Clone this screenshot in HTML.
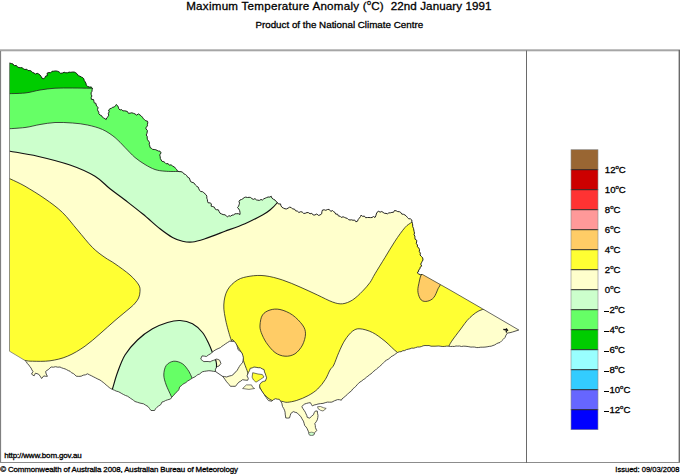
<!DOCTYPE html>
<html><head><meta charset="utf-8"><title>Maximum Temperature Anomaly</title>
<style>
html,body{margin:0;padding:0;background:#fff;}
body{width:680px;height:474px;overflow:hidden;position:relative;font-family:"Liberation Sans",sans-serif;color:#000;}
svg{position:absolute;left:0;top:0;}
.t{position:absolute;white-space:nowrap;line-height:1;-webkit-text-stroke:0.3px #000;}
#title{left:186.2px;top:-0.1px;font-size:11.6px;letter-spacing:0.2px;}
#sub{left:255.4px;top:19.7px;font-size:9.8px;}
#url{left:4.2px;top:452.1px;font-size:8px;letter-spacing:-0.14px;}
#copy{left:0.2px;top:465.5px;font-size:7.9px;letter-spacing:-0.11px;}
#iss{right:0.5px;top:466px;font-size:7.55px;}
sup{font-size:63%;vertical-align:baseline;position:relative;top:-0.74em;line-height:0;}
.mn{display:inline-block;width:4.5px;height:1.2px;background:#000;vertical-align:1.5px;margin-left:-0.8px;margin-right:0.9px;}
</style></head><body>
<svg width="680" height="474" viewBox="0 0 680 474">
<defs><clipPath id="vic"><path d="M9.5,63.0 L11.3,63.5 L13.0,64.0 L14.2,65.7 L16.3,65.4 L17.5,67.0 L19.0,67.6 L20.6,67.7 L22.3,67.7 L23.5,69.0 L25.0,69.5 L26.8,69.2 L28.0,70.6 L29.8,70.5 L31.3,71.1 L32.5,72.5 L34.0,72.9 L35.3,74.1 L37.2,73.3 L38.7,74.0 L40.0,75.0 L41.1,76.4 L41.9,78.1 L43.8,78.8 L44.9,77.6 L45.6,76.1 L47.5,75.6 L47.0,73.2 L48.8,72.5 L50.6,72.8 L52.0,71.3 L53.8,71.2 L55.6,70.9 L57.4,71.2 L59.1,71.9 L60.6,73.3 L62.5,73.0 L64.1,72.2 L65.8,72.8 L67.5,72.8 L69.1,72.1 L70.8,72.3 L72.5,72.0 L74.4,72.1 L75.9,72.9 L77.3,74.0 L78.3,75.7 L80.0,76.2 L81.3,77.0 L82.7,77.6 L83.8,78.8 L84.2,80.4 L85.1,81.8 L86.0,83.3 L86.2,85.0 L87.5,86.3 L89.2,87.0 L91.2,87.0 L92.5,88.2 L92.1,89.8 L92.0,91.3 L91.1,92.8 L91.2,94.4 L91.9,96.0 L91.2,97.5 L91.3,99.3 L93.6,99.6 L93.9,101.2 L94.2,102.8 L96.0,103.4 L96.2,105.0 L96.8,106.4 L98.2,107.5 L97.5,109.4 L97.9,110.9 L98.8,112.2 L98.8,113.8 L100.0,115.0 L101.5,115.6 L102.3,117.1 L103.6,117.9 L104.9,118.7 L106.2,119.5 L106.7,117.9 L108.0,116.7 L108.7,115.2 L108.3,113.3 L109.2,111.9 L108.6,110.0 L110.0,108.8 L111.5,108.2 L112.7,107.3 L114.3,107.0 L115.4,105.9 L116.2,104.5 L117.5,105.6 L118.3,107.1 L118.8,108.8 L120.0,110.0 L121.7,109.6 L122.9,110.9 L124.5,110.8 L126.0,111.1 L127.4,111.5 L128.4,113.3 L130.0,113.2 L131.8,112.8 L133.4,113.3 L135.0,113.9 L136.5,115.1 L138.5,113.9 L140.0,115.0 L141.3,116.0 L142.4,117.2 L143.3,118.7 L144.6,119.7 L145.8,120.8 L147.5,121.2 L147.8,122.8 L147.4,124.3 L147.4,125.9 L146.2,127.3 L145.9,128.8 L147.4,130.5 L147.2,132.0 L146.9,133.5 L146.2,135.0 L147.2,136.4 L147.2,138.1 L147.5,139.7 L148.6,141.1 L149.5,142.5 L149.2,144.3 L149.8,145.9 L150.0,147.5 L151.4,148.2 L152.5,149.4 L154.2,149.5 L155.7,149.7 L157.1,150.4 L158.4,151.0 L160.0,151.2 L161.1,152.9 L159.7,154.9 L160.2,156.6 L160.3,158.4 L161.2,160.0 L162.1,161.4 L163.9,161.7 L165.1,162.7 L166.2,163.8 L168.1,163.6 L169.3,165.2 L171.3,164.8 L172.5,166.2 L174.4,166.9 L175.4,168.3 L176.7,169.5 L177.5,171.2 L179.2,171.6 L181.0,171.7 L182.6,172.2 L183.8,173.8 L185.5,174.5 L186.8,175.7 L187.7,177.3 L189.4,178.1 L190.0,180.0 L190.6,181.6 L192.0,182.3 L193.8,182.8 L194.7,184.0 L195.7,185.3 L196.8,186.4 L198.2,187.1 L198.8,188.8 L199.6,190.3 L200.6,191.5 L202.5,191.7 L203.8,192.7 L205.0,193.8 L206.3,195.0 L206.8,196.5 L206.8,198.2 L207.4,199.6 L207.5,201.2 L208.1,202.8 L210.1,202.9 L211.4,203.8 L211.1,206.2 L212.8,206.6 L214.4,207.2 L215.0,208.8 L216.3,209.7 L218.3,209.8 L219.1,211.5 L220.0,213.2 L221.5,213.9 L223.1,214.6 L225.0,214.8 L226.3,215.9 L227.5,217.0 L228.7,215.7 L230.7,216.2 L232.0,215.1 L233.7,214.9 L235.0,213.8 L236.7,213.7 L238.4,213.7 L240.0,214.5 L240.0,212.5 L239.7,210.7 L238.8,209.0 L237.5,207.5 L238.6,206.2 L239.1,204.7 L239.5,203.2 L239.0,201.3 L240.0,200.0 L241.5,199.5 L242.9,198.7 L244.2,197.6 L245.7,197.1 L247.5,197.5 L249.1,197.3 L250.6,197.5 L251.9,198.6 L253.3,199.4 L255.0,198.6 L256.4,199.9 L257.8,200.2 L259.4,200.4 L261.0,199.5 L262.5,200.0 L263.7,198.9 L265.2,198.2 L266.6,197.6 L268.1,197.0 L269.9,197.1 L271.2,196.2 L271.9,198.1 L273.3,199.2 L275.0,200.0 L276.0,201.5 L277.5,202.5 L278.4,204.0 L280.5,203.9 L281.0,205.9 L282.0,207.3 L283.4,208.1 L285.0,208.8 L286.7,208.9 L288.1,208.1 L289.6,207.2 L291.2,207.5 L292.5,208.9 L294.5,209.1 L295.6,210.8 L297.5,211.2 L298.9,212.5 L300.7,211.7 L302.2,212.0 L303.6,213.4 L305.2,213.3 L307.0,212.5 L308.6,212.7 L310.0,213.8 L311.8,213.3 L313.2,215.0 L314.9,215.0 L316.8,213.9 L318.3,215.4 L320.0,215.0 L321.7,213.8 L321.9,211.8 L322.5,210.0 L324.2,209.8 L325.8,210.3 L327.5,209.5 L329.2,209.4 L330.8,211.4 L332.5,210.5 L333.6,211.7 L335.0,212.5 L335.7,214.1 L337.6,214.2 L338.3,215.9 L340.0,216.2 L341.2,217.4 L343.1,216.8 L344.5,217.4 L345.9,218.0 L347.3,218.4 L348.5,219.6 L350.0,220.0 L351.6,219.8 L353.0,220.3 L354.6,220.0 L355.9,221.8 L357.5,221.2 L358.2,219.5 L359.3,218.1 L360.5,216.6 L361.2,215.0 L362.5,216.4 L364.4,216.1 L365.6,217.7 L367.5,217.5 L369.0,217.5 L370.5,217.6 L372.0,217.5 L373.5,216.5 L375.0,217.5 L375.8,215.9 L376.3,214.0 L377.0,212.3 L378.8,211.2 L380.0,212.2 L381.8,211.5 L383.1,212.4 L384.5,213.3 L386.0,213.4 L387.5,213.8 L388.8,212.9 L390.4,212.8 L391.9,212.4 L393.5,212.3 L394.5,210.5 L396.2,210.8 L397.7,211.6 L399.4,211.7 L400.8,212.5 L401.8,214.1 L403.5,214.3 L405.0,215.0 L406.3,216.1 L407.4,217.4 L408.6,218.7 L410.5,218.9 L411.8,220.0 L411.9,221.7 L412.4,223.3 L412.7,225.0 L412.7,226.7 L413.5,228.3 L413.8,230.0 L414.1,231.5 L414.5,233.0 L414.0,234.7 L414.9,236.1 L414.9,237.7 L415.1,239.2 L416.8,240.4 L416.6,242.0 L416.3,243.7 L417.5,245.0 L417.3,246.8 L419.0,248.2 L419.5,249.8 L419.3,251.6 L420.4,253.1 L420.0,255.0 L421.4,256.4 L422.7,257.9 L423.0,260.0 L422.2,261.3 L421.5,262.7 L420.7,264.1 L421.7,266.1 L420.1,267.2 L420.0,268.8 L418.7,269.8 L418.6,271.7 L417.0,272.5 L418.6,273.9 L420.3,274.7 L422.5,274.5 L450.0,290.0 L482.5,308.8 L518.8,330.0 L512.5,332.0 L510.0,332.7 L507.5,333.0 L506.0,335.1 L505.0,337.5 L503.4,339.2 L501.7,340.8 L500.0,342.5 L498.1,343.0 L496.4,343.8 L494.8,344.9 L493.0,345.5 L491.2,346.2 L489.2,346.4 L487.1,346.8 L485.0,347.1 L482.9,347.2 L480.8,347.2 L478.8,347.5 L476.8,347.6 L474.8,347.1 L472.9,347.0 L470.9,347.1 L468.9,346.7 L467.0,346.4 L465.0,346.2 L463.2,346.2 L461.4,346.5 L459.6,346.0 L457.8,346.1 L456.0,346.0 L454.2,346.5 L452.4,346.4 L450.6,346.5 L448.8,346.2 L446.8,346.1 L444.8,346.4 L442.9,346.5 L440.9,346.3 L438.9,346.0 L437.0,346.1 L435.0,346.2 L433.0,346.2 L431.0,346.2 L429.0,345.5 L427.0,345.6 L425.0,345.5 L423.1,345.8 L421.3,346.6 L419.4,347.0 L417.5,347.0 L415.6,347.6 L413.8,348.2 L411.8,348.1 L410.0,348.8 L408.2,349.2 L406.4,349.6 L404.7,350.6 L402.8,350.7 L401.1,351.7 L399.2,351.8 L397.5,352.5 L396.0,353.6 L394.4,354.8 L392.8,355.8 L391.1,356.7 L389.8,358.1 L388.3,359.2 L386.6,360.1 L385.0,361.2 L383.7,362.6 L382.4,363.9 L381.0,365.2 L379.6,366.5 L378.2,367.6 L376.7,368.8 L375.4,370.1 L373.8,371.1 L372.5,372.5 L371.0,373.8 L369.4,374.9 L367.9,376.2 L366.3,377.3 L364.9,378.7 L363.2,379.7 L361.7,381.0 L360.0,382.0 L358.5,383.3 L357.1,384.8 L355.8,386.4 L354.3,387.7 L352.7,389.0 L351.6,390.7 L350.0,392.0 L348.5,393.1 L347.2,394.6 L345.8,395.8 L343.9,397.4 L342.0,398.9 L341.4,400.2 L339.5,399.7 L337.6,399.6 L334.4,400.8 L331.9,402.1 L329.7,402.2 L327.5,402.1 L325.2,402.7 L323.0,403.4 L320.5,403.6 L318.0,404.0 L316.1,404.6 L314.1,405.0 L312.3,405.9 L311.3,404.3 L310.4,402.7 L308.5,402.9 L306.6,403.4 L304.7,404.0 L303.2,405.2 L301.8,406.5 L302.8,408.4 L304.1,410.3 L305.3,412.2 L306.0,413.9 L306.8,415.5 L307.2,417.3 L309.7,418.2 L311.4,416.3 L313.5,414.7 L314.2,412.7 L315.4,411.0 L317.3,411.0 L317.5,413.2 L318.0,415.4 L317.8,417.6 L317.3,419.8 L316.2,421.8 L314.8,423.6 L315.3,425.5 L315.4,427.4 L316.7,430.6 L314.8,432.5 L313.5,435.0 L311.6,434.8 L309.7,435.0 L308.5,431.8 L307.2,428.7 L306.1,427.0 L304.7,425.5 L304.1,423.3 L303.4,421.1 L302.0,418.9 L300.9,416.6 L298.9,414.8 L297.1,412.8 L295.2,412.3 L293.3,411.6 L290.8,413.5 L290.2,415.7 L289.5,417.9 L287.6,418.1 L285.7,417.9 L285.5,416.0 L285.2,414.1 L285.1,412.2 L284.5,410.2 L283.6,408.3 L282.5,406.5 L281.8,403.1 L280.6,401.2 L279.3,399.3 L277.4,399.2 L275.5,398.7 L273.4,399.7 L271.7,401.2 L268.5,400.6 L267.3,399.1 L266.2,397.4 L265.0,396.0 L264.1,394.2 L262.9,392.7 L261.9,391.1 L260.8,389.5 L259.7,387.9 L259.7,384.7 L261.6,382.2 L263.4,381.4 L265.4,381.0 L266.6,377.8 L266.0,375.9 L265.4,374.0 L264.5,371.9 L264.1,369.6 L262.1,368.8 L260.3,367.7 L258.2,367.7 L256.1,367.3 L254.0,367.0 L252.2,367.9 L250.2,368.3 L249.5,370.6 L248.3,372.7 L247.0,375.9 L248.3,378.4 L247.7,380.3 L245.1,380.1 L242.6,379.7 L240.8,381.1 L238.8,382.2 L237.1,384.2 L235.5,386.3 L232.9,386.3 L230.4,386.3 L229.2,384.7 L227.9,383.2 L226.6,381.8 L225.3,379.9 L224.0,378.0 L222.5,376.3 L224.6,376.6 L226.6,377.0 L229.1,376.1 L231.7,375.5 L233.4,374.5 L234.5,372.8 L236.1,371.7 L237.3,370.1 L238.3,368.3 L239.3,366.6 L240.7,364.5 L242.5,362.8 L243.1,360.3 L243.4,357.8 L242.8,355.2 L241.8,352.7 L239.9,351.1 L238.0,349.6 L237.5,347.3 L236.8,345.1 L235.7,343.1 L234.2,341.3 L232.0,341.4 L229.8,341.1 L227.6,342.5 L225.4,343.9 L223.7,345.2 L221.9,346.3 L220.3,347.7 L218.1,348.6 L216.0,349.6 L214.0,350.8 L212.1,352.4 L210.2,354.0 L208.2,355.1 L206.4,356.5 L204.2,356.1 L202.0,355.9 L200.7,359.1 L202.2,360.4 L203.9,361.6 L206.0,361.5 L208.1,361.5 L210.2,361.8 L211.8,360.9 L213.6,360.3 L215.3,359.7 L215.9,359.0 L217.9,359.4 L219.7,360.3 L220.9,363.5 L219.0,366.0 L217.2,366.6 L216.1,368.1 L215.3,369.8 L215.6,371.6 L213.4,371.3 L211.1,370.9 L208.9,370.7 L206.8,371.0 L204.7,371.3 L202.6,371.7 L201.1,372.7 L199.7,374.0 L197.9,374.6 L196.4,375.7 L195.0,376.8 L192.5,378.0 L190.8,379.1 L189.1,380.2 L187.4,381.2 L185.9,382.6 L184.1,383.5 L182.5,384.5 L181.3,385.8 L179.7,386.8 L178.8,389.7 L177.2,391.6 L175.3,393.2 L173.7,395.3 L171.8,397.2 L170.5,399.0 L167.4,399.9 L165.6,400.5 L163.9,401.5 L162.0,402.0 L160.7,404.7 L158.7,405.9 L156.8,407.4 L155.5,408.8 L154.6,410.5 L151.0,410.5 L149.5,408.5 L148.0,406.5 L145.7,405.2 L143.5,403.8 L140.0,403.1 L137.5,402.3 L135.0,401.5 L133.6,400.4 L132.1,399.3 L130.5,398.3 L129.0,397.2 L127.5,396.2 L125.5,395.5 L123.7,394.6 L121.8,393.6 L120.0,392.5 L118.2,391.6 L116.2,391.1 L114.4,390.2 L112.5,389.5 L110.8,388.6 L109.2,387.5 L107.7,386.2 L106.2,385.0 L104.8,383.7 L103.2,382.4 L101.6,381.2 L100.0,380.0 L97.9,379.1 L95.8,378.0 L93.8,377.0 L91.7,375.9 L89.6,374.9 L87.5,373.8 L85.5,374.8 L83.2,375.2 L81.2,376.2 L78.8,376.4 L76.2,376.2 L74.9,374.8 L73.3,373.5 L71.4,372.7 L70.0,371.2 L68.3,370.6 L66.7,369.7 L65.1,368.9 L63.3,368.4 L61.6,367.8 L60.0,367.0 L57.8,367.2 L55.6,366.7 L53.4,367.2 L51.2,367.0 L49.8,368.1 L48.6,369.4 L47.0,370.4 L45.6,371.5 L46.2,374.0 L47.4,376.3 L45.6,376.3 L43.8,375.9 L41.6,378.5 L40.2,376.2 L38.5,374.1 L35.4,373.2 L34.1,375.9 L31.5,374.1 L33.0,371.5 L31.9,369.9 L31.1,368.1 L29.9,366.6 L28.8,365.0 L27.4,363.6 L26.4,361.8 L25.0,360.5 L9.5,351.2Z"/></clipPath></defs>
<rect x="0" y="49.3" width="680" height="2" fill="#a6a6a6"/>
<rect x="0" y="51" width="1.1" height="412" fill="#808080"/>
<rect x="678.6" y="50" width="1.4" height="413" fill="#6a6a6a"/>
<rect x="0" y="462" width="680" height="1" fill="#8c8c8c"/>
<line x1="526.5" y1="50.5" x2="526.5" y2="463" stroke="#6a6a6a" stroke-width="1"/>
<g clip-path="url(#vic)" stroke="#222" stroke-width="0.8">
<rect x="0" y="50" width="530" height="400" fill="#ffffcc" stroke="none"/>
<path d="M5.0,150.5 C5.8,150.6 4.6,150.3 10.0,151.2 C15.4,152.2 27.5,154.0 37.5,156.2 C47.5,158.5 60.4,161.7 70.0,165.0 C79.6,168.3 88.3,172.3 95.0,176.2 C101.7,180.2 105.0,184.8 110.0,188.8 C115.0,192.7 119.6,195.8 125.0,200.0 C130.4,204.2 136.7,209.0 142.5,213.8 C148.3,218.5 155.0,224.8 160.0,228.8 C165.0,232.7 168.8,235.4 172.5,237.5 C176.2,239.6 179.2,240.5 182.5,241.2 C185.8,242.0 188.8,242.4 192.5,242.0 C196.2,241.6 199.6,240.5 205.0,238.8 C210.4,237.0 218.3,233.8 225.0,231.2 C231.7,228.8 238.8,226.5 245.0,223.8 C251.2,221.0 258.3,217.3 262.5,215.0 C266.7,212.7 267.5,212.1 270.0,210.0 C272.5,207.9 275.7,204.7 277.5,202.5 C279.3,200.3 280.4,197.9 281.0,197.0 L300,190 L300,40 L0,40 Z" fill="#ccffcc" stroke="#111" stroke-width="1.15"/>
<path d="M5.0,129.0 C8.3,128.8 19.2,128.2 25.0,127.5 C30.8,126.8 35.0,125.3 40.0,124.5 C45.0,123.7 49.6,122.8 55.0,122.5 C60.4,122.2 67.1,122.6 72.5,123.0 C77.9,123.4 82.5,123.9 87.5,125.0 C92.5,126.1 97.9,127.4 102.5,129.5 C107.1,131.6 111.2,134.5 115.0,137.5 C118.8,140.5 121.7,144.2 125.0,147.5 C128.3,150.8 131.7,154.7 135.0,157.5 C138.3,160.3 141.7,162.5 145.0,164.5 C148.3,166.5 151.7,168.4 155.0,169.5 C158.3,170.6 160.8,170.9 165.0,171.2 C169.2,171.6 177.5,171.5 180.0,171.5 L200,170 L200,40 L0,40 Z" fill="#66ff66"/>
<path d="M5.0,93.8 C8.3,93.6 19.2,93.6 25.0,93.0 C30.8,92.4 35.0,90.8 40.0,90.0 C45.0,89.2 49.6,88.6 55.0,88.2 C60.4,87.9 66.7,88.0 72.5,88.0 C78.3,88.0 86.1,88.2 90.0,88.2 C93.9,88.3 95.0,88.5 96.0,88.5 L110,88 L110,40 L0,40 Z" fill="#00cc00"/>
<path d="M110.0,397.0 C110.4,395.6 111.2,392.8 112.5,388.8 C113.8,384.7 115.4,378.1 117.5,372.5 C119.6,366.9 121.7,360.4 125.0,355.0 C128.3,349.6 132.9,344.4 137.5,340.0 C142.1,335.6 147.5,331.7 152.5,328.8 C157.5,325.8 162.9,323.9 167.5,322.5 C172.1,321.1 175.8,320.3 180.0,320.5 C184.2,320.7 188.8,321.8 192.5,323.8 C196.2,325.8 199.8,329.2 202.5,332.5 C205.2,335.8 207.1,340.4 208.8,343.8 C210.4,347.1 211.5,350.1 212.5,352.5 C213.5,354.9 214.3,356.1 215.0,358.0 C215.7,359.9 216.3,361.3 216.5,364.0 C216.7,366.7 216.1,372.3 216.0,374.0 L216,420 L100,420 Z" fill="#ccffcc" stroke="#111" stroke-width="1.15"/>
<path d="M174.0,402.0 C173.5,401.0 172.5,399.1 171.2,396.2 C170.0,393.4 167.5,388.5 166.2,385.0 C165.0,381.5 163.8,378.2 163.8,375.0 C163.8,371.8 164.6,367.8 166.2,365.5 C167.9,363.2 171.0,361.5 173.8,361.2 C176.5,361.0 180.0,362.1 182.5,363.8 C185.0,365.4 187.2,368.9 188.8,371.2 C190.3,373.6 191.1,375.9 192.0,378.0 C192.9,380.1 193.7,383.0 194.0,384.0 L194,420 L174,420 Z" fill="#66ff66"/>
<path d="M0.0,174.0 C1.7,174.8 5.8,176.7 10.0,178.8 C14.2,180.8 19.2,182.9 25.0,186.2 C30.8,189.6 38.8,194.4 45.0,198.8 C51.2,203.1 57.1,207.3 62.5,212.5 C67.9,217.7 72.5,224.2 77.5,230.0 C82.5,235.8 87.9,242.9 92.5,247.5 C97.1,252.1 101.2,254.8 105.0,257.5 C108.8,260.2 110.8,260.8 115.0,263.8 C119.2,266.7 126.0,271.5 130.0,275.0 C134.0,278.5 137.1,282.2 138.8,285.0 C140.4,287.8 140.0,289.3 140.0,291.5 C140.0,293.7 139.4,296.1 138.6,298.0 C137.8,299.9 136.6,301.3 135.2,303.0 C133.8,304.7 133.4,305.1 130.0,308.0 C126.6,310.9 120.0,316.2 115.0,320.5 C110.0,324.8 105.0,329.5 100.0,333.8 C95.0,338.0 90.4,342.5 85.0,346.2 C79.6,350.0 73.3,353.8 67.5,356.2 C61.7,358.7 55.8,359.9 50.0,360.8 C44.2,361.6 36.7,361.3 32.5,361.2 C28.3,361.2 28.8,361.0 25.0,360.5 C21.2,360.0 14.2,358.8 10.0,358.0 C5.8,357.2 1.7,356.3 0.0,356.0Z" fill="#ffff33"/>
<path d="M241.5,352.8 C239.8,349.4 234.7,342.1 233.0,340.0 C231.3,337.9 232.4,342.9 231.2,340.0 C230.1,337.1 227.5,328.3 226.2,322.5 C225.0,316.7 223.5,310.4 223.8,305.0 C224.0,299.6 225.2,294.2 227.5,290.0 C229.8,285.8 233.8,282.3 237.5,280.0 C241.2,277.7 245.4,277.0 250.0,276.2 C254.6,275.5 259.6,275.1 265.0,275.8 C270.4,276.4 276.7,278.1 282.5,280.0 C288.3,281.9 294.2,284.5 300.0,287.0 C305.8,289.5 312.1,292.5 317.5,295.0 C322.9,297.5 328.3,300.5 332.5,302.0 C336.7,303.5 339.2,304.1 342.5,303.8 C345.8,303.4 349.2,302.1 352.5,300.0 C355.8,297.9 359.6,294.2 362.5,291.2 C365.4,288.3 367.9,285.4 370.0,282.5 C372.1,279.6 372.5,277.9 375.0,273.8 C377.5,269.6 381.7,262.9 385.0,257.5 C388.3,252.1 391.7,246.2 395.0,241.2 C398.3,236.2 402.2,230.7 405.0,227.5 C407.8,224.3 409.8,223.9 412.0,222.0 C414.2,220.1 413.3,211.3 418.0,216.0 C422.7,220.7 426.3,234.3 440.0,250.0 C453.7,265.7 492.9,300.1 500.0,310.0 C507.1,319.9 487.5,308.2 482.5,309.5 C477.5,310.8 473.8,314.1 470.0,317.5 C466.2,320.9 462.9,326.2 460.0,330.0 C457.1,333.8 454.4,337.3 452.5,340.0 C450.6,342.7 449.8,344.2 448.8,346.2 C447.7,348.2 452.5,349.7 446.0,352.0 C439.5,354.3 418.1,359.9 410.0,360.0 C401.9,360.1 401.7,355.6 397.5,352.5 C393.3,349.4 389.2,344.6 385.0,341.2 C380.8,337.9 376.7,334.6 372.5,332.5 C368.3,330.4 363.3,329.0 360.0,328.8 C356.7,328.5 355.0,329.4 352.5,331.2 C350.0,333.1 347.3,336.5 345.0,340.0 C342.7,343.5 340.6,348.3 338.8,352.5 C336.9,356.7 335.2,362.1 333.8,365.0 C332.3,367.9 331.4,367.6 330.0,370.0 C328.6,372.4 327.4,376.3 325.3,379.5 C323.2,382.7 320.6,386.3 317.7,389.0 C314.8,391.7 311.7,393.7 308.2,395.6 C304.7,397.5 300.3,399.3 296.8,400.4 C293.3,401.5 289.8,402.1 287.3,402.3 C284.8,402.5 284.2,401.6 281.6,401.3 C279.1,401.0 274.9,401.5 272.0,400.4 C269.1,399.3 266.6,396.9 264.5,394.7 C262.4,392.5 260.8,389.6 259.7,387.1 C258.6,384.7 259.8,381.9 258.0,380.0 C256.2,378.1 250.9,377.1 249.1,375.6 C247.3,374.1 248.1,373.3 247.2,370.8 C246.2,368.3 244.3,363.4 243.4,360.4 C242.5,357.4 243.2,356.2 241.5,352.8Z" fill="#ffff33"/>
<path d="M260.0,325.0 C260.2,322.1 260.8,317.5 262.5,315.0 C264.2,312.5 267.1,310.9 270.0,310.0 C272.9,309.1 276.2,308.7 280.0,309.5 C283.8,310.3 288.8,312.4 292.5,315.0 C296.2,317.6 300.3,321.9 302.5,325.0 C304.7,328.1 305.5,330.4 305.5,333.8 C305.5,337.1 304.2,341.7 302.5,345.0 C300.8,348.3 297.9,351.9 295.0,353.8 C292.1,355.6 288.3,356.5 285.0,356.2 C281.7,356.0 278.1,354.8 275.0,352.5 C271.9,350.2 268.5,345.8 266.2,342.5 C264.0,339.2 262.3,335.4 261.2,332.5 C260.2,329.6 259.8,327.9 260.0,325.0Z" fill="#ffcc66"/>
<path d="M422.5,273.0 C420.3,275.0 419.5,280.5 418.8,283.8 C418.0,287.0 417.6,289.8 418.0,292.5 C418.4,295.2 419.7,298.5 421.2,300.0 C422.8,301.5 425.4,301.7 427.5,301.2 C429.6,300.8 432.0,299.6 433.8,297.5 C435.5,295.4 437.0,291.2 438.0,288.8 C439.0,286.3 441.0,285.8 440.0,283.0 C439.0,280.2 434.9,273.7 432.0,272.0 C429.1,270.3 424.7,271.0 422.5,273.0Z" fill="#ffcc66"/>
</g>
<path d="M9.5,63.0 L11.3,63.5 L13.0,64.0 L14.2,65.7 L16.3,65.4 L17.5,67.0 L19.0,67.6 L20.6,67.7 L22.3,67.7 L23.5,69.0 L25.0,69.5 L26.8,69.2 L28.0,70.6 L29.8,70.5 L31.3,71.1 L32.5,72.5 L34.0,72.9 L35.3,74.1 L37.2,73.3 L38.7,74.0 L40.0,75.0 L41.1,76.4 L41.9,78.1 L43.8,78.8 L44.9,77.6 L45.6,76.1 L47.5,75.6 L47.0,73.2 L48.8,72.5 L50.6,72.8 L52.0,71.3 L53.8,71.2 L55.6,70.9 L57.4,71.2 L59.1,71.9 L60.6,73.3 L62.5,73.0 L64.1,72.2 L65.8,72.8 L67.5,72.8 L69.1,72.1 L70.8,72.3 L72.5,72.0 L74.4,72.1 L75.9,72.9 L77.3,74.0 L78.3,75.7 L80.0,76.2 L81.3,77.0 L82.7,77.6 L83.8,78.8 L84.2,80.4 L85.1,81.8 L86.0,83.3 L86.2,85.0 L87.5,86.3 L89.2,87.0 L91.2,87.0 L92.5,88.2 L92.1,89.8 L92.0,91.3 L91.1,92.8 L91.2,94.4 L91.9,96.0 L91.2,97.5 L91.3,99.3 L93.6,99.6 L93.9,101.2 L94.2,102.8 L96.0,103.4 L96.2,105.0 L96.8,106.4 L98.2,107.5 L97.5,109.4 L97.9,110.9 L98.8,112.2 L98.8,113.8 L100.0,115.0 L101.5,115.6 L102.3,117.1 L103.6,117.9 L104.9,118.7 L106.2,119.5 L106.7,117.9 L108.0,116.7 L108.7,115.2 L108.3,113.3 L109.2,111.9 L108.6,110.0 L110.0,108.8 L111.5,108.2 L112.7,107.3 L114.3,107.0 L115.4,105.9 L116.2,104.5 L117.5,105.6 L118.3,107.1 L118.8,108.8 L120.0,110.0 L121.7,109.6 L122.9,110.9 L124.5,110.8 L126.0,111.1 L127.4,111.5 L128.4,113.3 L130.0,113.2 L131.8,112.8 L133.4,113.3 L135.0,113.9 L136.5,115.1 L138.5,113.9 L140.0,115.0 L141.3,116.0 L142.4,117.2 L143.3,118.7 L144.6,119.7 L145.8,120.8 L147.5,121.2 L147.8,122.8 L147.4,124.3 L147.4,125.9 L146.2,127.3 L145.9,128.8 L147.4,130.5 L147.2,132.0 L146.9,133.5 L146.2,135.0 L147.2,136.4 L147.2,138.1 L147.5,139.7 L148.6,141.1 L149.5,142.5 L149.2,144.3 L149.8,145.9 L150.0,147.5 L151.4,148.2 L152.5,149.4 L154.2,149.5 L155.7,149.7 L157.1,150.4 L158.4,151.0 L160.0,151.2 L161.1,152.9 L159.7,154.9 L160.2,156.6 L160.3,158.4 L161.2,160.0 L162.1,161.4 L163.9,161.7 L165.1,162.7 L166.2,163.8 L168.1,163.6 L169.3,165.2 L171.3,164.8 L172.5,166.2 L174.4,166.9 L175.4,168.3 L176.7,169.5 L177.5,171.2 L179.2,171.6 L181.0,171.7 L182.6,172.2 L183.8,173.8 L185.5,174.5 L186.8,175.7 L187.7,177.3 L189.4,178.1 L190.0,180.0 L190.6,181.6 L192.0,182.3 L193.8,182.8 L194.7,184.0 L195.7,185.3 L196.8,186.4 L198.2,187.1 L198.8,188.8 L199.6,190.3 L200.6,191.5 L202.5,191.7 L203.8,192.7 L205.0,193.8 L206.3,195.0 L206.8,196.5 L206.8,198.2 L207.4,199.6 L207.5,201.2 L208.1,202.8 L210.1,202.9 L211.4,203.8 L211.1,206.2 L212.8,206.6 L214.4,207.2 L215.0,208.8 L216.3,209.7 L218.3,209.8 L219.1,211.5 L220.0,213.2 L221.5,213.9 L223.1,214.6 L225.0,214.8 L226.3,215.9 L227.5,217.0 L228.7,215.7 L230.7,216.2 L232.0,215.1 L233.7,214.9 L235.0,213.8 L236.7,213.7 L238.4,213.7 L240.0,214.5 L240.0,212.5 L239.7,210.7 L238.8,209.0 L237.5,207.5 L238.6,206.2 L239.1,204.7 L239.5,203.2 L239.0,201.3 L240.0,200.0 L241.5,199.5 L242.9,198.7 L244.2,197.6 L245.7,197.1 L247.5,197.5 L249.1,197.3 L250.6,197.5 L251.9,198.6 L253.3,199.4 L255.0,198.6 L256.4,199.9 L257.8,200.2 L259.4,200.4 L261.0,199.5 L262.5,200.0 L263.7,198.9 L265.2,198.2 L266.6,197.6 L268.1,197.0 L269.9,197.1 L271.2,196.2 L271.9,198.1 L273.3,199.2 L275.0,200.0 L276.0,201.5 L277.5,202.5 L278.4,204.0 L280.5,203.9 L281.0,205.9 L282.0,207.3 L283.4,208.1 L285.0,208.8 L286.7,208.9 L288.1,208.1 L289.6,207.2 L291.2,207.5 L292.5,208.9 L294.5,209.1 L295.6,210.8 L297.5,211.2 L298.9,212.5 L300.7,211.7 L302.2,212.0 L303.6,213.4 L305.2,213.3 L307.0,212.5 L308.6,212.7 L310.0,213.8 L311.8,213.3 L313.2,215.0 L314.9,215.0 L316.8,213.9 L318.3,215.4 L320.0,215.0 L321.7,213.8 L321.9,211.8 L322.5,210.0 L324.2,209.8 L325.8,210.3 L327.5,209.5 L329.2,209.4 L330.8,211.4 L332.5,210.5 L333.6,211.7 L335.0,212.5 L335.7,214.1 L337.6,214.2 L338.3,215.9 L340.0,216.2 L341.2,217.4 L343.1,216.8 L344.5,217.4 L345.9,218.0 L347.3,218.4 L348.5,219.6 L350.0,220.0 L351.6,219.8 L353.0,220.3 L354.6,220.0 L355.9,221.8 L357.5,221.2 L358.2,219.5 L359.3,218.1 L360.5,216.6 L361.2,215.0 L362.5,216.4 L364.4,216.1 L365.6,217.7 L367.5,217.5 L369.0,217.5 L370.5,217.6 L372.0,217.5 L373.5,216.5 L375.0,217.5 L375.8,215.9 L376.3,214.0 L377.0,212.3 L378.8,211.2 L380.0,212.2 L381.8,211.5 L383.1,212.4 L384.5,213.3 L386.0,213.4 L387.5,213.8 L388.8,212.9 L390.4,212.8 L391.9,212.4 L393.5,212.3 L394.5,210.5 L396.2,210.8 L397.7,211.6 L399.4,211.7 L400.8,212.5 L401.8,214.1 L403.5,214.3 L405.0,215.0 L406.3,216.1 L407.4,217.4 L408.6,218.7 L410.5,218.9 L411.8,220.0 L411.9,221.7 L412.4,223.3 L412.7,225.0 L412.7,226.7 L413.5,228.3 L413.8,230.0 L414.1,231.5 L414.5,233.0 L414.0,234.7 L414.9,236.1 L414.9,237.7 L415.1,239.2 L416.8,240.4 L416.6,242.0 L416.3,243.7 L417.5,245.0 L417.3,246.8 L419.0,248.2 L419.5,249.8 L419.3,251.6 L420.4,253.1 L420.0,255.0 L421.4,256.4 L422.7,257.9 L423.0,260.0 L422.2,261.3 L421.5,262.7 L420.7,264.1 L421.7,266.1 L420.1,267.2 L420.0,268.8 L418.7,269.8 L418.6,271.7 L417.0,272.5 L418.6,273.9 L420.3,274.7 L422.5,274.5" fill="none" stroke="#1a1a1a" stroke-width="0.95" stroke-linejoin="round"/>
<path d="M422.5,274.5 L450.0,290.0 L482.5,308.8 L518.8,330.0" fill="none" stroke="#444" stroke-width="0.8"/>
<path d="M518.8,330.0 L512.5,332.0 L510.0,332.7 L507.5,333.0 L506.0,335.1 L505.0,337.5 L503.4,339.2 L501.7,340.8 L500.0,342.5 L498.1,343.0 L496.4,343.8 L494.8,344.9 L493.0,345.5 L491.2,346.2 L489.2,346.4 L487.1,346.8 L485.0,347.1 L482.9,347.2 L480.8,347.2 L478.8,347.5 L476.8,347.6 L474.8,347.1 L472.9,347.0 L470.9,347.1 L468.9,346.7 L467.0,346.4 L465.0,346.2 L463.2,346.2 L461.4,346.5 L459.6,346.0 L457.8,346.1 L456.0,346.0 L454.2,346.5 L452.4,346.4 L450.6,346.5 L448.8,346.2 L446.8,346.1 L444.8,346.4 L442.9,346.5 L440.9,346.3 L438.9,346.0 L437.0,346.1 L435.0,346.2 L433.0,346.2 L431.0,346.2 L429.0,345.5 L427.0,345.6 L425.0,345.5 L423.1,345.8 L421.3,346.6 L419.4,347.0 L417.5,347.0 L415.6,347.6 L413.8,348.2 L411.8,348.1 L410.0,348.8 L408.2,349.2 L406.4,349.6 L404.7,350.6 L402.8,350.7 L401.1,351.7 L399.2,351.8 L397.5,352.5 L396.0,353.6 L394.4,354.8 L392.8,355.8 L391.1,356.7 L389.8,358.1 L388.3,359.2 L386.6,360.1 L385.0,361.2 L383.7,362.6 L382.4,363.9 L381.0,365.2 L379.6,366.5 L378.2,367.6 L376.7,368.8 L375.4,370.1 L373.8,371.1 L372.5,372.5 L371.0,373.8 L369.4,374.9 L367.9,376.2 L366.3,377.3 L364.9,378.7 L363.2,379.7 L361.7,381.0 L360.0,382.0 L358.5,383.3 L357.1,384.8 L355.8,386.4 L354.3,387.7 L352.7,389.0 L351.6,390.7 L350.0,392.0 L348.5,393.1 L347.2,394.6 L345.8,395.8 L343.9,397.4 L342.0,398.9 L341.4,400.2 L339.5,399.7 L337.6,399.6 L334.4,400.8 L331.9,402.1 L329.7,402.2 L327.5,402.1 L325.2,402.7 L323.0,403.4 L320.5,403.6 L318.0,404.0 L316.1,404.6 L314.1,405.0 L312.3,405.9 L311.3,404.3 L310.4,402.7 L308.5,402.9 L306.6,403.4 L304.7,404.0 L303.2,405.2 L301.8,406.5 L302.8,408.4 L304.1,410.3 L305.3,412.2 L306.0,413.9 L306.8,415.5 L307.2,417.3 L309.7,418.2 L311.4,416.3 L313.5,414.7 L314.2,412.7 L315.4,411.0 L317.3,411.0 L317.5,413.2 L318.0,415.4 L317.8,417.6 L317.3,419.8 L316.2,421.8 L314.8,423.6 L315.3,425.5 L315.4,427.4 L316.7,430.6 L314.8,432.5 L313.5,435.0 L311.6,434.8 L309.7,435.0 L308.5,431.8 L307.2,428.7 L306.1,427.0 L304.7,425.5 L304.1,423.3 L303.4,421.1 L302.0,418.9 L300.9,416.6 L298.9,414.8 L297.1,412.8 L295.2,412.3 L293.3,411.6 L290.8,413.5 L290.2,415.7 L289.5,417.9 L287.6,418.1 L285.7,417.9 L285.5,416.0 L285.2,414.1 L285.1,412.2 L284.5,410.2 L283.6,408.3 L282.5,406.5 L281.8,403.1 L280.6,401.2 L279.3,399.3 L277.4,399.2 L275.5,398.7 L273.4,399.7 L271.7,401.2 L268.5,400.6 L267.3,399.1 L266.2,397.4 L265.0,396.0 L264.1,394.2 L262.9,392.7 L261.9,391.1 L260.8,389.5 L259.7,387.9 L259.7,384.7 L261.6,382.2 L263.4,381.4 L265.4,381.0 L266.6,377.8 L266.0,375.9 L265.4,374.0 L264.5,371.9 L264.1,369.6 L262.1,368.8 L260.3,367.7 L258.2,367.7 L256.1,367.3 L254.0,367.0 L252.2,367.9 L250.2,368.3 L249.5,370.6 L248.3,372.7 L247.0,375.9 L248.3,378.4 L247.7,380.3 L245.1,380.1 L242.6,379.7 L240.8,381.1 L238.8,382.2 L237.1,384.2 L235.5,386.3 L232.9,386.3 L230.4,386.3 L229.2,384.7 L227.9,383.2 L226.6,381.8 L225.3,379.9 L224.0,378.0 L222.5,376.3 L224.6,376.6 L226.6,377.0 L229.1,376.1 L231.7,375.5 L233.4,374.5 L234.5,372.8 L236.1,371.7 L237.3,370.1 L238.3,368.3 L239.3,366.6 L240.7,364.5 L242.5,362.8 L243.1,360.3 L243.4,357.8 L242.8,355.2 L241.8,352.7 L239.9,351.1 L238.0,349.6 L237.5,347.3 L236.8,345.1 L235.7,343.1 L234.2,341.3 L232.0,341.4 L229.8,341.1 L227.6,342.5 L225.4,343.9 L223.7,345.2 L221.9,346.3 L220.3,347.7 L218.1,348.6 L216.0,349.6 L214.0,350.8 L212.1,352.4 L210.2,354.0 L208.2,355.1 L206.4,356.5 L204.2,356.1 L202.0,355.9 L200.7,359.1 L202.2,360.4 L203.9,361.6 L206.0,361.5 L208.1,361.5 L210.2,361.8 L211.8,360.9 L213.6,360.3 L215.3,359.7 L215.9,359.0 L217.9,359.4 L219.7,360.3 L220.9,363.5 L219.0,366.0 L217.2,366.6 L216.1,368.1 L215.3,369.8 L215.6,371.6 L213.4,371.3 L211.1,370.9 L208.9,370.7 L206.8,371.0 L204.7,371.3 L202.6,371.7 L201.1,372.7 L199.7,374.0 L197.9,374.6 L196.4,375.7 L195.0,376.8 L192.5,378.0 L190.8,379.1 L189.1,380.2 L187.4,381.2 L185.9,382.6 L184.1,383.5 L182.5,384.5 L181.3,385.8 L179.7,386.8 L178.8,389.7 L177.2,391.6 L175.3,393.2 L173.7,395.3 L171.8,397.2 L170.5,399.0 L167.4,399.9 L165.6,400.5 L163.9,401.5 L162.0,402.0 L160.7,404.7 L158.7,405.9 L156.8,407.4 L155.5,408.8 L154.6,410.5 L151.0,410.5 L149.5,408.5 L148.0,406.5 L145.7,405.2 L143.5,403.8 L140.0,403.1 L137.5,402.3 L135.0,401.5 L133.6,400.4 L132.1,399.3 L130.5,398.3 L129.0,397.2 L127.5,396.2 L125.5,395.5 L123.7,394.6 L121.8,393.6 L120.0,392.5 L118.2,391.6 L116.2,391.1 L114.4,390.2 L112.5,389.5 L110.8,388.6 L109.2,387.5 L107.7,386.2 L106.2,385.0 L104.8,383.7 L103.2,382.4 L101.6,381.2 L100.0,380.0 L97.9,379.1 L95.8,378.0 L93.8,377.0 L91.7,375.9 L89.6,374.9 L87.5,373.8 L85.5,374.8 L83.2,375.2 L81.2,376.2 L78.8,376.4 L76.2,376.2 L74.9,374.8 L73.3,373.5 L71.4,372.7 L70.0,371.2 L68.3,370.6 L66.7,369.7 L65.1,368.9 L63.3,368.4 L61.6,367.8 L60.0,367.0 L57.8,367.2 L55.6,366.7 L53.4,367.2 L51.2,367.0 L49.8,368.1 L48.6,369.4 L47.0,370.4 L45.6,371.5 L46.2,374.0 L47.4,376.3 L45.6,376.3 L43.8,375.9 L41.6,378.5 L40.2,376.2 L38.5,374.1 L35.4,373.2 L34.1,375.9 L31.5,374.1 L33.0,371.5 L31.9,369.9 L31.1,368.1 L29.9,366.6 L28.8,365.0 L27.4,363.6 L26.4,361.8 L25.0,360.5" fill="none" stroke="#333" stroke-width="0.85" stroke-linejoin="round"/>
<path d="M25.0,360.5 L9.5,351.2 L9.5,63.0" fill="none" stroke="#777" stroke-width="0.8"/>
<path d="M215.6,371.6 L222.5,376.3" stroke="#222" stroke-width="0.8"/>
<path d="M252.7,372.7 L258.0,374.0 L262.3,374.5 L264.0,377.0 L260.3,379.5 L256.0,382.2 L253.5,380.0 L252.1,377.2Z" fill="#ffff33" stroke="#222" stroke-width="0.6"/>
<path d="M242.6,388.5 L246.4,384.9 L251.5,384.9 L252.7,387.3 L254.6,388.5 L248.9,389.4Z" fill="#ffffcc" stroke="#222" stroke-width="0.6"/>
<path d="M317.6,406.7 L320.5,406.5 L323.7,407.8 L326.2,408.4 L323.0,411.0 L320.5,410.3 L318.0,408.6Z" fill="#ffffcc" stroke="#222" stroke-width="0.6"/>
<ellipse cx="311.5" cy="433.8" rx="2.8" ry="1.6" fill="#ccffcc" stroke="#222" stroke-width="0.5"/>
<path d="M503.3,329.3 l2,0.4 l1.2,-0.8 l1,1.3 l-1.3,0.8 l0.4,1.6" fill="none" stroke="#111" stroke-width="1.3"/>
<rect x="571" y="149.7" width="27" height="20.1" fill="#996633"/>
<rect x="571" y="169.7" width="27" height="20.1" fill="#cc0000"/>
<rect x="571" y="189.7" width="27" height="20.1" fill="#ff3333"/>
<rect x="571" y="209.7" width="27" height="20.1" fill="#ff9999"/>
<rect x="571" y="229.7" width="27" height="20.1" fill="#ffcc66"/>
<rect x="571" y="249.7" width="27" height="20.1" fill="#ffff33"/>
<rect x="571" y="269.7" width="27" height="20.1" fill="#ffffcc"/>
<rect x="571" y="289.7" width="27" height="20.1" fill="#ccffcc"/>
<rect x="571" y="309.7" width="27" height="20.1" fill="#66ff66"/>
<rect x="571" y="329.7" width="27" height="20.1" fill="#00cc00"/>
<rect x="571" y="349.7" width="27" height="20.1" fill="#99ffff"/>
<rect x="571" y="369.7" width="27" height="20.1" fill="#33ccff"/>
<rect x="571" y="389.7" width="27" height="20.1" fill="#6666ff"/>
<rect x="571" y="409.7" width="27" height="20.1" fill="#0000ff"/>
<line x1="570.8" x2="598.2" y1="169.7" y2="169.7" stroke="#262626" stroke-width="1"/>
<line x1="570.8" x2="598.2" y1="189.7" y2="189.7" stroke="#262626" stroke-width="1"/>
<line x1="570.8" x2="598.2" y1="209.7" y2="209.7" stroke="#262626" stroke-width="1"/>
<line x1="570.8" x2="598.2" y1="229.7" y2="229.7" stroke="#262626" stroke-width="1"/>
<line x1="570.8" x2="598.2" y1="249.7" y2="249.7" stroke="#262626" stroke-width="1"/>
<line x1="570.8" x2="598.2" y1="269.7" y2="269.7" stroke="#262626" stroke-width="1"/>
<line x1="570.8" x2="598.2" y1="289.7" y2="289.7" stroke="#262626" stroke-width="1"/>
<line x1="570.8" x2="598.2" y1="309.7" y2="309.7" stroke="#262626" stroke-width="1"/>
<line x1="570.8" x2="598.2" y1="329.7" y2="329.7" stroke="#262626" stroke-width="1"/>
<line x1="570.8" x2="598.2" y1="349.7" y2="349.7" stroke="#262626" stroke-width="1"/>
<line x1="570.8" x2="598.2" y1="369.7" y2="369.7" stroke="#262626" stroke-width="1"/>
<line x1="570.8" x2="598.2" y1="389.7" y2="389.7" stroke="#262626" stroke-width="1"/>
<line x1="570.8" x2="598.2" y1="409.7" y2="409.7" stroke="#262626" stroke-width="1"/>
<rect x="571" y="149.7" width="27" height="280" fill="none" stroke="#8a8a8a" stroke-width="0.6"/>
</svg>
<div class="t lab" style="left:604.8px;top:165.3px;font-size:9.6px;">12<sup>o</sup>C</div>
<div class="t lab" style="left:604.8px;top:185.3px;font-size:9.6px;">10<sup>o</sup>C</div>
<div class="t lab" style="left:604.8px;top:205.3px;font-size:9.6px;">8<sup>o</sup>C</div>
<div class="t lab" style="left:604.8px;top:225.3px;font-size:9.6px;">6<sup>o</sup>C</div>
<div class="t lab" style="left:604.8px;top:245.3px;font-size:9.6px;">4<sup>o</sup>C</div>
<div class="t lab" style="left:604.8px;top:265.3px;font-size:9.6px;">2<sup>o</sup>C</div>
<div class="t lab" style="left:604.8px;top:285.3px;font-size:9.6px;">0<sup>o</sup>C</div>
<div class="t lab" style="left:604.8px;top:305.3px;font-size:9.6px;"><span class="mn"></span>2<sup>o</sup>C</div>
<div class="t lab" style="left:604.8px;top:325.3px;font-size:9.6px;"><span class="mn"></span>4<sup>o</sup>C</div>
<div class="t lab" style="left:604.8px;top:345.3px;font-size:9.6px;"><span class="mn"></span>6<sup>o</sup>C</div>
<div class="t lab" style="left:604.8px;top:365.3px;font-size:9.6px;"><span class="mn"></span>8<sup>o</sup>C</div>
<div class="t lab" style="left:604.8px;top:385.3px;font-size:9.6px;"><span class="mn"></span>10<sup>o</sup>C</div>
<div class="t lab" style="left:604.8px;top:405.3px;font-size:9.6px;"><span class="mn"></span>12<sup>o</sup>C</div>
<div class="t" id="title"><span style="letter-spacing:0.265px">Maximum Temperature Anomaly </span>(<sup>o</sup>C)&nbsp; <span style="letter-spacing:0.1px">22nd January 1991</span></div>
<div class="t" id="sub">Product of the National Climate Centre</div>
<div class="t" id="url">http://www.bom.gov.au</div>
<div class="t" id="copy">&copy; Commonwealth of Australia 2008, Australian Bureau of Meteorology</div>
<div class="t" id="iss">Issued: 09/03/2008</div>
</body></html>
